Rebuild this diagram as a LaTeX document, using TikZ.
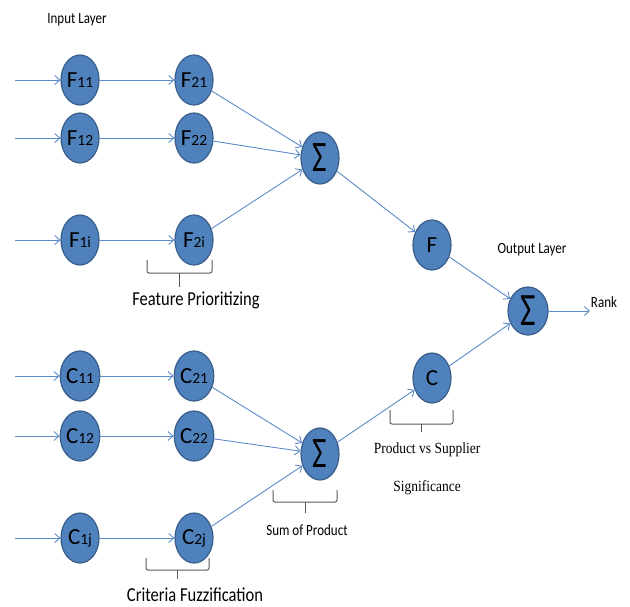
\documentclass[tikz,border=0pt]{standalone}
\usepackage{fontspec}
\setmainfont{Carlito}
\newfontfamily\serifc{Liberation Serif}
\usetikzlibrary{shapes.geometric,arrows.meta}
\definecolor{nodefill}{HTML}{4F81BD}
\definecolor{nodeline}{HTML}{385D8A}
\definecolor{arrowc}{HTML}{5B8BC9}
\definecolor{bracec}{HTML}{595959}
\newcommand{\nlab}[2]{\fontsize{23}{23}\selectfont #1\fontsize{15.5}{15.5}\selectfont #2}
\newcommand{\sig}[1]{\raisebox{-1pt}{\scalebox{1.05}[1.45]{\fontsize{#1}{#1}\selectfont Σ}}}
\newcommand{\tall}[1]{\scalebox{1}[1.2]{#1}}
\tikzset{
  neuron/.style={ellipse, draw=nodeline, line width=1.2pt, fill=nodefill,
    minimum width=38pt, minimum height=50pt, inner sep=0pt, text=black},
  conn/.style={draw=arrowc, line width=0.9pt, -{Straight Barb[length=5pt,width=9pt,line width=0.9pt]}},
  bracket/.style={draw=bracec, line width=1pt, rounded corners=2pt},
  lab/.style={font=\fontsize{13}{13}\selectfont, text=black, inner sep=0pt},
  blab/.style={font=\fontsize{16.5}{16.5}\selectfont, text=black, inner sep=0pt},
  slab/.style={font=\serifc\fontsize{13.5}{13.5}\selectfont, text=black, inner sep=0pt}
}
\begin{document}
\begin{tikzpicture}[x=1pt,y=-1pt]
\useasboundingbox (0,0) rectangle (630,606);
% feature branch
\node[neuron] (F11) at (80,80) {\nlab{F}{11}};
\node[neuron] (F12) at (80,138) {\nlab{F}{12}};
\node[neuron] (F1i) at (80,240) {\nlab{F}{1i}};
\node[neuron] (F21) at (194,80) {\nlab{F}{21}};
\node[neuron] (F22) at (194,138) {\nlab{F}{22}};
\node[neuron] (F2i) at (194,240) {\nlab{F}{2i}};
\node[neuron, minimum height=52pt] (S1) at (320,158) {\sig{30}};
\node[neuron] (F) at (432,245) {\fontsize{23}{23}\selectfont F};
% criteria branch
\node[neuron] (C11) at (80,376) {\nlab{C}{11}};
\node[neuron] (C12) at (80,436) {\nlab{C}{12}};
\node[neuron] (C1j) at (80,538) {\nlab{C}{1j}};
\node[neuron] (C21) at (194,376) {\nlab{C}{21}};
\node[neuron] (C22) at (194,436) {\nlab{C}{22}};
\node[neuron] (C2j) at (194,538) {\nlab{C}{2j}};
\node[neuron, minimum height=52pt] (S2) at (320,454) {\sig{30}};
\node[neuron] (C) at (432,378) {\fontsize{23}{23}\selectfont C};
% output
\node[neuron, minimum width=40pt, minimum height=48pt] (S3) at (528,311) {\sig{32}};
\node[lab] (rank) at (604,302) {\tall{Rank}};
\node[lab] (inlay) at (77,20) {\tall{Input Layer}};
\node[lab] (outlay) at (532,250) {\tall{Output Layer}};
% input coordinates
\coordinate (iF11) at (15,80);
\coordinate (iF12) at (15,138);
\coordinate (iF1i) at (15,240);
\coordinate (iC11) at (15,376);
\coordinate (iC12) at (15,436);
\coordinate (iC1j) at (15,538);
\coordinate (out) at (590,311);
% connectors
\foreach \a in {F11,F12,F1i,C11,C12,C1j}{ \draw[conn] (i\a) -- (\a); }
\draw[conn] (F11) -- (F21);
\draw[conn] (F12) -- (F22);
\draw[conn] (F1i) -- (F2i);
\draw[conn] (C11) -- (C21);
\draw[conn] (C12) -- (C22);
\draw[conn] (C1j) -- (C2j);
\draw[conn] (F21) -- (S1);
\draw[conn] (F22) -- (S1);
\draw[conn] (F2i) -- (S1);
\draw[conn] (C21) -- (S2);
\draw[conn] (C22) -- (S2);
\draw[conn] (C2j) -- (S2);
\draw[conn] (S1) -- (F);
\draw[conn] (S2) -- (C);
\draw[conn] (F) -- (S3);
\draw[conn] (C) -- (S3);
\draw[conn] (S3) -- (out);
% brackets and labels
\draw[bracket] (147,260) -- (147,273) -- (212,273) -- (212,260);
\draw[bracket] (179.5,273) -- (179.5,287);
\node[blab] (lfp) at (196,300) {\tall{Feature Prioritizing}};
\draw[bracket] (146,558) -- (146,570) -- (209,570) -- (209,558);
\draw[bracket] (177.5,570) -- (177.5,579);
\node[blab] (lcf) at (195,595) {\tall{Criteria Fuzzification}};
\draw[bracket] (273,490) -- (273,502) -- (337,502) -- (337,490);
\draw[bracket] (305,502) -- (305,513);
\node[lab] (lsp) at (307,530) {\tall{Sum of Product}};
\draw[bracket] (390,410) -- (390,424) -- (453,424) -- (453,410);
\draw[bracket] (421.5,424) -- (421.5,432);
\node[slab] (lps) at (427,450) {\scalebox{1}[1.15]{Product vs Supplier}};
\node[slab] (lsig) at (427,488) {\scalebox{1}[1.15]{Significance}};
\end{tikzpicture}
\end{document}
